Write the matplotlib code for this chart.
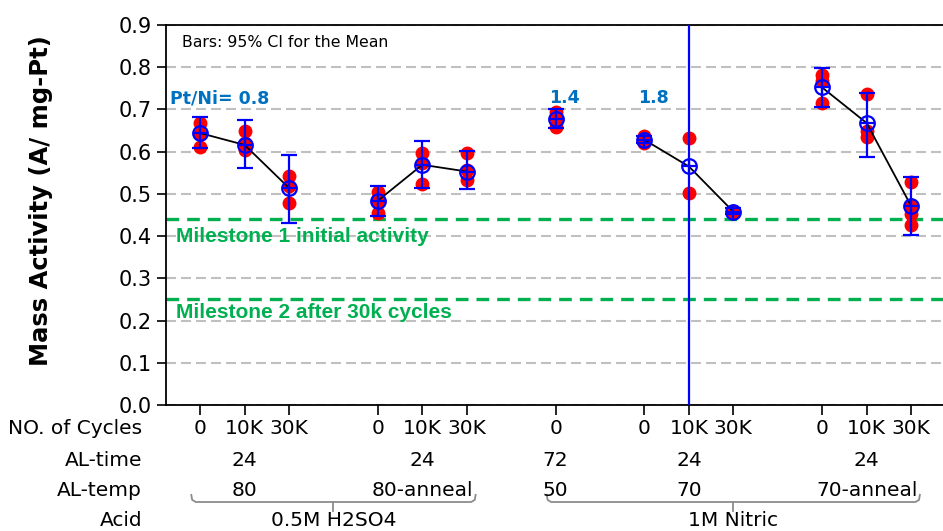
import numpy as np
import matplotlib.pyplot as plt
from matplotlib import transforms

# x-axis levels
cycles = ['0', '10K', '30K', '0', '10K', '30K', '0', '0', '10K', '30K', '0', '10K', '30K']
group_size = [3, 3, 1, 3, 3]
al_time = ['24', '24', '72', '24', '24']
al_temp = ['80', '80-anneal', '50', '70', '70-anneal']
acid = ['0.5M H2SO4', '1M Nitric']
acid_size = [2, 3]
pt_ni = ['Pt/Ni= 0.8', '', '1.4', '1.8', '']

# replicate values per cell
reps = [
    [0.668, 0.642, 0.611],
    [0.648, 0.620, 0.603],
    [0.543, 0.518, 0.478],
    [0.505, 0.482, 0.454],
    [0.598, 0.572, 0.523],
    [0.596, 0.557, 0.532],
    [0.695, 0.679, 0.659],
    [0.637, 0.628, 0.620],
    [0.632, 0.503],
    [0.460, 0.456],
    [0.782, 0.768, 0.715],
    [0.736, 0.648, 0.634],
    [0.527, 0.474, 0.453, 0.427],
]
means = np.array([0.644, 0.616, 0.514, 0.484, 0.569, 0.553, 0.677,
                  0.628, 0.565, 0.458, 0.752, 0.668, 0.472])
ci_low = np.array([0.608, 0.561, 0.432, 0.448, 0.514, 0.511, 0.656,
                   0.621, -0.26, 0.452, 0.705, 0.588, 0.403])
ci_high = np.array([0.681, 0.675, 0.593, 0.519, 0.626, 0.602, 0.701,
                    0.636, 1.39, 0.466, 0.798, 0.739, 0.540])

milestones = [0.44, 0.25]
milestone_labels = ['Milestone 1 initial activity', 'Milestone 2 after 30k cycles']

# positions: one empty slot between groups
pos, starts = [], []
i = 0
for n in group_size:
    starts.append(i)
    pos += list(range(i, i + n))
    i += n + 1
pos = np.array(pos)
centers = [s + (n - 1) / 2 for s, n in zip(starts, group_size)]

fig = plt.figure(figsize=(9.43, 5.31), dpi=100)
ax = fig.add_axes([0.176, 0.2373, 0.824, 0.7156])

for x, r in zip(pos, reps):
    ax.plot([x] * len(r), r, 'o', color='red', ms=9, zorder=3)

k = 0
for n in group_size:
    ax.plot(pos[k:k + n], means[k:k + n], color='black', lw=1.3, zorder=4)
    k += n

ax.errorbar(pos, means, yerr=[means - ci_low, ci_high - means], fmt='none',
            ecolor='blue', elinewidth=1.6, capsize=6, capthick=1.6, zorder=5)
ax.plot(pos, means, 'o', mfc='none', mec='blue', mew=1.6, ms=10.5, zorder=6)
ax.plot(pos, means, '+', color='blue', ms=10.5, mew=1.6, zorder=6)

for m in milestones:
    ax.axhline(m, color='#00B050', lw=2.4, linestyle=(0, (3.8, 2.4)), zorder=2)
yblend = transforms.blended_transform_factory(ax.transAxes, ax.transData)
for m, lab, dy in zip(milestones, milestone_labels, (0.04, 0.032)):
    ax.text(0.013, m - dy, lab, transform=yblend, color='#00B050', fontsize=15,
            fontweight='bold', family='Liberation Sans', va='center')

ax.set_xlim(-0.77, 16.72)
ax.set_ylim(0, 0.9)
ax.spines['right'].set_visible(False)
for s in ['left', 'bottom', 'top']:
    ax.spines[s].set_linewidth(1.3)
yt = np.round(np.arange(0, 0.91, 0.1), 1)
ax.set_yticks(yt, [f'{v:.1f}' for v in yt])
ax.yaxis.grid(True, color='#c0c0c0', lw=1.5, linestyle=(0, (4.8, 2.4)))
ax.set_axisbelow(True)
ax.tick_params(axis='y', direction='out', length=6.5, width=1.2, labelsize=15, pad=4)
ax.set_xticks(pos, cycles)
ax.tick_params(axis='x', direction='out', length=7, width=1.2, labelsize=14.5, pad=3)

ax.text(0.02, 0.953, 'Bars: 95% CI for the Mean', transform=ax.transAxes,
        fontsize=11.3, va='center')
for g, lab in enumerate(pt_ni):
    if not lab:
        continue
    if lab.startswith('Pt'):
        ax.text(starts[g] - 0.68, 0.727, lab, color='#0070C0', fontsize=12.5,
                fontweight='bold', ha='left', va='center')
    else:
        ax.text(starts[g] + 0.2, 0.727, lab, color='#0070C0', fontsize=12.5,
                fontweight='bold', ha='center', va='center')

fig.text(0.0435, 0.623, 'Mass Activity (A/ mg-Pt)', rotation=90, fontsize=17.5,
         fontweight='bold', ha='center', va='center')

# row labels under the axis
row_y = [0.1921, 0.1337, 0.0772, 0.0207]
for lab, y in zip(['NO. of Cycles', 'AL-time', 'AL-temp', 'Acid'], row_y):
    fig.text(0.1506, y, lab, fontsize=14.5, ha='right', va='center')

xblend = transforms.blended_transform_factory(ax.transData, fig.transFigure)
for c, t, tp in zip(centers, al_time, al_temp):
    ax.text(c, row_y[1], t, transform=xblend, fontsize=14.5, ha='center', va='center')
    ax.text(c, row_y[2], tp, transform=xblend, fontsize=14.5, ha='center', va='center')

g0 = 0
for name, na in zip(acid, acid_size):
    gl = g0 + na - 1
    x0 = starts[g0] - 0.2
    x1 = starts[gl] + group_size[gl] - 1 + 0.2
    xm = (x0 + x1) / 2
    yl, yt_, yb = 0.0546, 0.068, 0.0377
    ax.plot([x0, x0 + 0.02, x0 + 0.1, x1 - 0.1, x1 - 0.02, x1],
            [yt_, yl + 0.004, yl, yl, yl + 0.004, yt_], transform=xblend,
            color='#8c8c8c', lw=1.3, clip_on=False)
    ax.plot([xm, xm], [yl, yb], transform=xblend, color='#8c8c8c', lw=1.3, clip_on=False)
    ax.text(xm, row_y[3], name, transform=xblend, fontsize=14.5, ha='center', va='center')
    g0 += na

fig.savefig('out.png', dpi=100)
